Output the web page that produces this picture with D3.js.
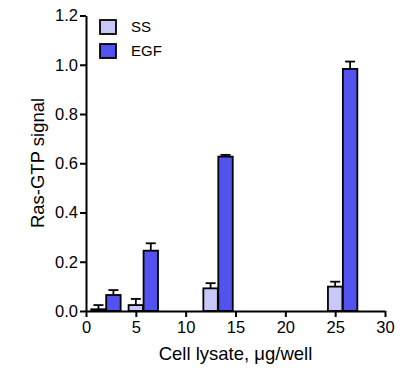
<!DOCTYPE html>
<html>
<head>
<meta charset="utf-8">
<script src="https://cdn.jsdelivr.net/npm/d3@7"></script>
<style>
  body { margin: 0; background: #fff; }
  text { font-family: "Liberation Sans", Arial, sans-serif; fill: #000; }
</style>
</head>
<body>
<svg id="chart" width="414" height="377"></svg>
<script>
"use strict";

// lysate amounts (µg/well) where the SS bar sits; EGF bar is drawn next to it
const lysate = [1.25, 5, 12.5, 25];
const ssValues = [0.007, 0.024, 0.092, 0.099];
const ssErr = [0.017, 0.025, 0.021, 0.020];
const egfValues = [0.065, 0.245, 0.627, 0.983];
const egfErr = [0.020, 0.030, 0.007, 0.030];
const xTicks = [0, 5, 10, 15, 20, 25, 30];
const yTicks = [0.0, 0.2, 0.4, 0.6, 0.8, 1.0, 1.2];
const seriesNames = ['SS', 'EGF'];
const seriesColors = ['#c8c8f6', '#5252ee'];

const svg = d3.select('#chart');

const x = d3.scaleLinear().domain([0, 30]).range([86, 385]);
const y = d3.scaleLinear().domain([0, 1.2]).range([311, 15.5]);

const barW = 1.45;     // bar width in x units
const egfOffset = 1.5; // EGF bar offset from SS bar

const series = [
  { name: 'SS', vals: ssValues, err: ssErr, off: 0, color: seriesColors[0] },
  { name: 'EGF', vals: egfValues, err: egfErr, off: egfOffset, color: seriesColors[1] },
];

// bars + error bars
series.forEach((s) => {
  const g = svg.append('g');
  lysate.forEach((lx, i) => {
    const cx = lx + s.off;
    const x0 = x(cx - barW / 2);
    const x1 = x(cx + barW / 2);
    const top = y(s.vals[i] + s.err[i]);
    const px = x(cx);
    // error bar (upper only)
    g.append('line')
      .attr('x1', px).attr('x2', px)
      .attr('y1', y(s.vals[i])).attr('y2', top)
      .attr('stroke', '#000').attr('stroke-width', 1.8);
    g.append('line')
      .attr('x1', px - 5).attr('x2', px + 5)
      .attr('y1', top).attr('y2', top)
      .attr('stroke', '#000').attr('stroke-width', 1.8);
    g.append('rect')
      .attr('x', x0)
      .attr('y', y(s.vals[i]))
      .attr('width', x1 - x0)
      .attr('height', y(0) - y(s.vals[i]))
      .attr('fill', s.color)
      .attr('stroke', '#000')
      .attr('stroke-width', 1.8);
  });
});

// axes
const xAxis = d3.axisBottom(x).tickValues(xTicks).tickFormat(d3.format('d')).tickSize(6).tickSizeOuter(0);
const yAxis = d3.axisLeft(y).tickValues(yTicks).tickFormat(d3.format('.1f')).tickSize(6).tickSizeOuter(0);

const gx = svg.append('g').attr('transform', 'translate(0,' + y(0) + ')').call(xAxis);
const gy = svg.append('g').attr('transform', 'translate(' + x(0) + ',0)').call(yAxis);

[gx, gy].forEach((g) => {
  g.select('.domain').attr('stroke', '#000').attr('stroke-width', 2);
  g.selectAll('.tick line').attr('stroke', '#000').attr('stroke-width', 2);
  g.selectAll('.tick text')
    .style('font-family', '"Liberation Sans", Arial, sans-serif')
    .style('font-size', '16.5px')
    .attr('fill', '#000');
});
gx.selectAll('.tick text').attr('dy', 0).attr('y', 22);
gy.selectAll('.tick text').attr('x', -8);

// axis titles
svg.append('text')
  .attr('x', 235.5).attr('y', 360)
  .attr('text-anchor', 'middle')
  .style('font-size', '18.5px')
  .text('Cell lysate, \u03bcg/well');

svg.append('text')
  .attr('transform', 'translate(44,163) rotate(-90)')
  .attr('text-anchor', 'middle')
  .style('font-size', '18.5px')
  .text('Ras-GTP signal');

// legend
const legend = svg.append('g').attr('transform', 'translate(100,20)');
seriesNames.forEach((name, i) => {
  legend.append('rect')
    .attr('x', 0).attr('y', i * 24)
    .attr('width', 16).attr('height', 14)
    .attr('fill', seriesColors[i])
    .attr('stroke', '#000').attr('stroke-width', 1.8);
  legend.append('text')
    .attr('x', 31).attr('y', i * 23.5 + 12)
    .style('font-size', '15px')
    .text(name);
});
</script>
</body>
</html>
